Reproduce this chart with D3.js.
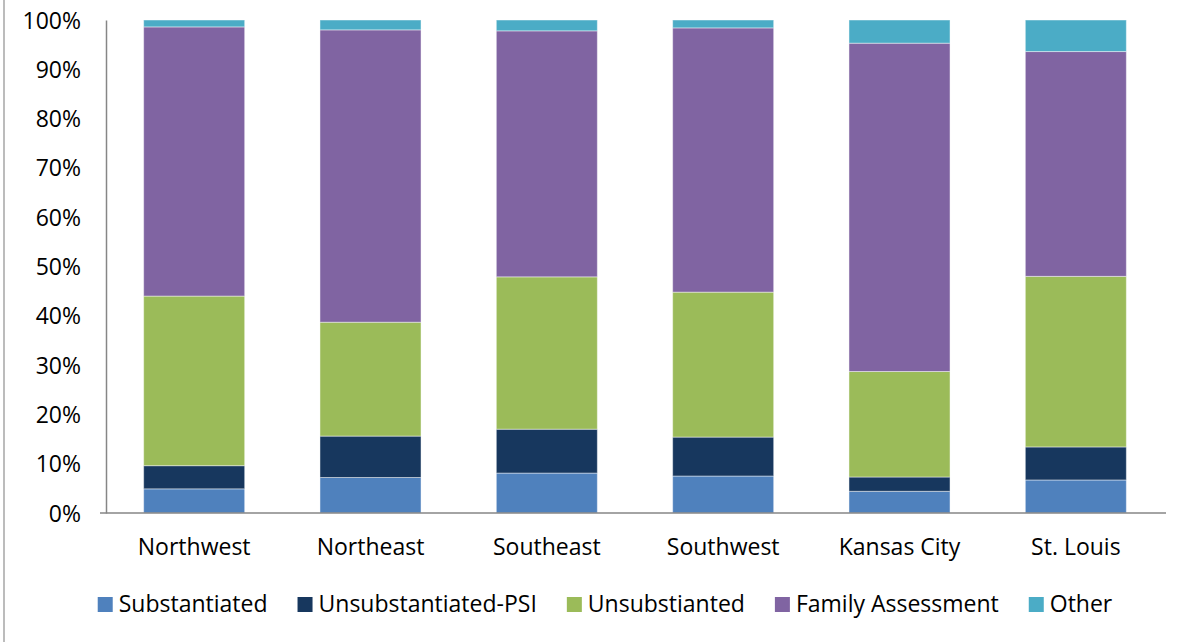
<!DOCTYPE html>
<html>
<head>
<meta charset="utf-8">
<script src="https://cdn.jsdelivr.net/npm/d3@7"></script>
<style>
  body { margin: 0; background: #fff; }
  text { font-family: "Open Sans", sans-serif; fill: #000; }
</style>
</head>
<body>
<div id="chart"></div>
<script>
// Regions on the x axis
var regions = ["Northwest", "Northeast", "Southeast", "Southwest", "Kansas City", "St. Louis"];

// Series (percent of each region's total)
var substantiated = [4.9, 7.2, 8.1, 7.5, 4.4, 6.7];
var unsubstantiatedPSI = [4.7, 8.4, 8.9, 7.9, 2.9, 6.7];
var unsubstantiated = [34.4, 23.1, 30.9, 29.4, 21.4, 34.6];
var familyAssessment = [54.6, 59.3, 49.9, 53.6, 66.6, 45.6];
var other = [1.4, 2.0, 2.2, 1.6, 4.7, 6.4];

var seriesNames = ["Substantiated", "Unsubstantiated-PSI", "Unsubstianted", "Family Assessment", "Other"];
var seriesValues = [substantiated, unsubstantiatedPSI, unsubstantiated, familyAssessment, other];
var seriesColors = ["#4f81bd", "#17375e", "#9bbb59", "#8064a2", "#4bacc6"];

var yTicks = [0, 10, 20, 30, 40, 50, 60, 70, 80, 90, 100];

var W = 1193, H = 642;
var margin = { top: 20, right: 29, bottom: 129, left: 106 };
var width = W - margin.left - margin.right,
  height = H - margin.top - margin.bottom;

var svgRoot = d3.select("#chart").append("svg")
  .attr("width", W)
  .attr("height", H);

// outer frame edge on the left
svgRoot.append("line")
  .attr("x1", 4).attr("x2", 4)
  .attr("y1", 0).attr("y2", H)
  .attr("stroke", "#a6a6a6")
  .attr("stroke-width", 1.5);

var svg = svgRoot.append("g")
  .attr("transform", "translate(" + margin.left + "," + margin.top + ")");

// build rows for the stack
var rows = regions.map(function (r, i) {
  var row = { region: r };
  seriesNames.forEach(function (s, j) { row[s] = seriesValues[j][i]; });
  return row;
});

var stacked = d3.stack().keys(seriesNames)(rows);

var x = d3.scaleBand()
  .domain(regions)
  .range([0, width])
  .paddingInner(0.427)
  .paddingOuter(0.2135);

var y = d3.scaleLinear()
  .domain([0, 100])
  .range([height, 0]);

// bars
svg.append("g")
  .selectAll("g")
  .data(stacked)
  .join("g")
  .attr("fill", function (d, i) { return seriesColors[i]; })
  .selectAll("rect")
  .data(function (d) { return d; })
  .join("rect")
  .attr("x", function (d) { return x(d.data.region); })
  .attr("y", function (d) { return y(d[1]); })
  .attr("width", x.bandwidth())
  .attr("height", function (d) { return y(d[0]) - y(d[1]); })
  .attr("stroke", "#ffffff")
  .attr("stroke-opacity", 0.45)
  .attr("stroke-width", 1);

// y axis
var yAxis = svg.append("g")
  .call(d3.axisLeft(y).tickValues(yTicks).tickSize(0).tickPadding(25)
    .tickFormat(function (d) { return d + "%"; }));
yAxis.select(".domain").attr("stroke", "#868686").attr("stroke-width", 1.5);
yAxis.selectAll("text").style("font-size", "23px").attr("dy", "0.35em");

// x axis
var xAxis = svg.append("g")
  .attr("transform", "translate(0," + height + ")")
  .call(d3.axisBottom(x).tickSize(0).tickPadding(26));
xAxis.select(".domain").remove();
xAxis.append("line")
  .attr("x1", -6).attr("x2", width + 2)
  .attr("y1", 0).attr("y2", 0)
  .attr("stroke", "#868686")
  .attr("stroke-width", 1.5);
xAxis.selectAll("text").style("font-size", "23px");

// legend
var legend = svgRoot.append("g").attr("transform", "translate(0,604)");
var cursor = 0;
seriesNames.forEach(function (name, i) {
  var item = legend.append("g").attr("transform", "translate(" + cursor + ",0)");
  item.append("rect")
    .attr("x", 0).attr("y", -7)
    .attr("width", 15).attr("height", 15)
    .attr("fill", seriesColors[i]);
  var t = item.append("text")
    .attr("x", 21)
    .attr("dy", "0.35em")
    .style("font-size", "23px")
    .text(name);
  cursor += 21 + t.node().getComputedTextLength() + 30;
});
var legendWidth = cursor - 30;
legend.attr("transform", "translate(" + (605 - legendWidth / 2) + ",604)");
</script>
</body>
</html>
